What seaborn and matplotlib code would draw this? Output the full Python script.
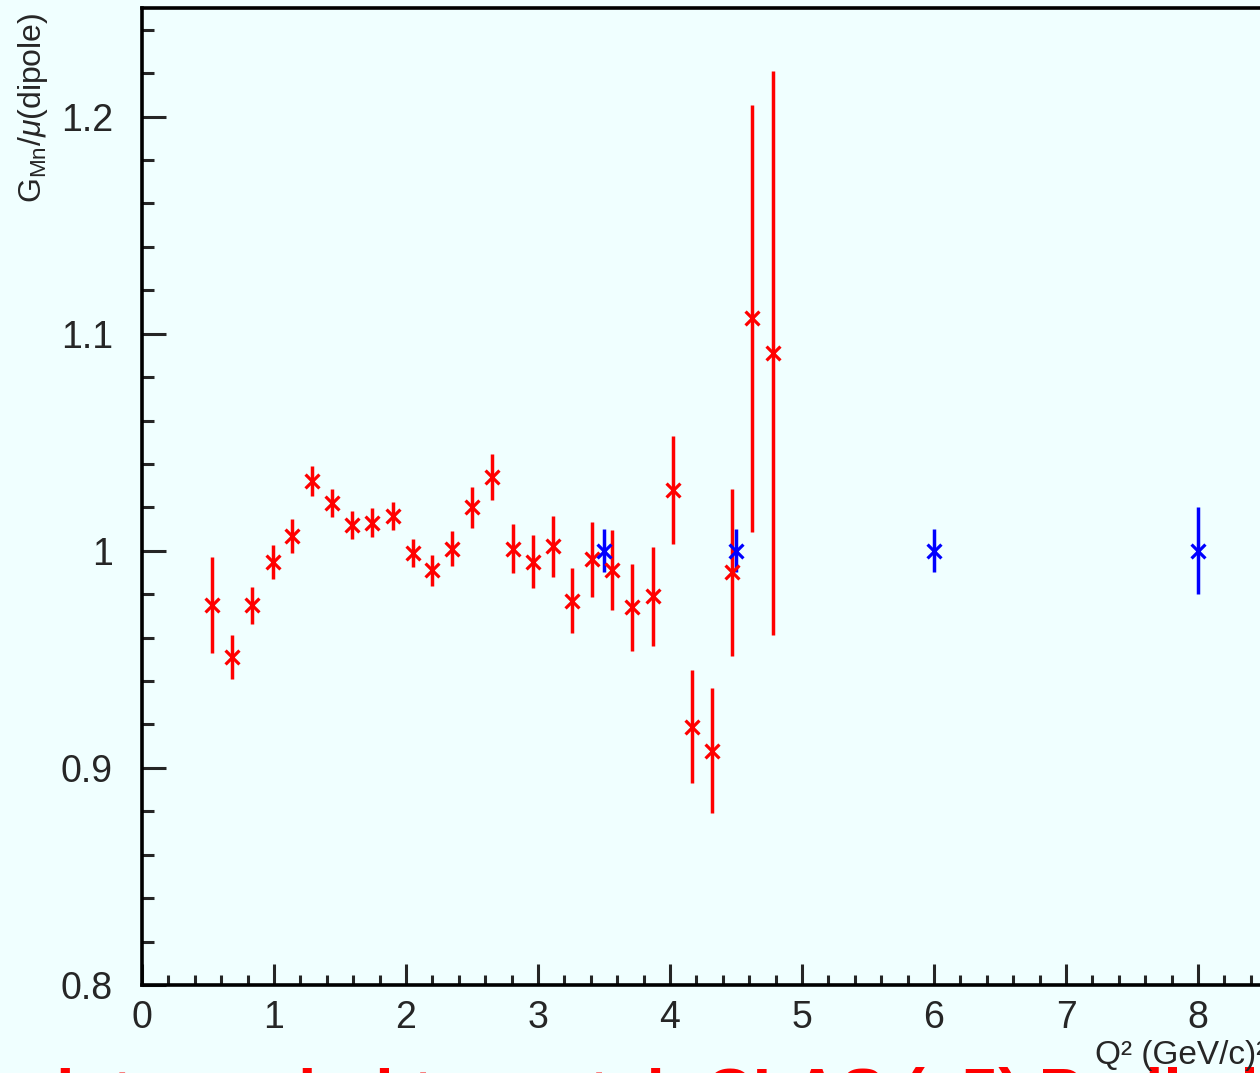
import seaborn as sns
import pandas as pd
import matplotlib
matplotlib.use("Agg")
import matplotlib.pyplot as plt
from matplotlib.ticker import MultipleLocator, FuncFormatter

# red points: Q2, G_Mn/mu G_D, error
q2_red = [0.53, 0.68, 0.83, 0.99, 1.14, 1.29, 1.44, 1.59, 1.74, 1.90, 2.05, 2.20,
          2.35, 2.50, 2.65, 2.81, 2.96, 3.11, 3.26, 3.41, 3.56, 3.71, 3.87, 4.02,
          4.17, 4.32, 4.47, 4.62, 4.78]
gmn_red = [0.975, 0.951, 0.975, 0.995, 1.007, 1.032, 1.022, 1.012, 1.013, 1.016,
           0.999, 0.991, 1.001, 1.020, 1.034, 1.001, 0.995, 1.002, 0.977, 0.996,
           0.991, 0.974, 0.979, 1.028, 0.919, 0.908, 0.990, 1.107, 1.091]
err_red = [0.022, 0.010, 0.0085, 0.0078, 0.0078, 0.007, 0.0066, 0.0065, 0.0065,
           0.0064, 0.0064, 0.007, 0.0081, 0.0096, 0.0107, 0.0112, 0.0121, 0.0142,
           0.015, 0.0172, 0.0184, 0.020, 0.0229, 0.025, 0.026, 0.029, 0.0385,
           0.0985, 0.130]

# blue points (projected)
q2_blue = [3.5, 4.5, 6.0, 8.0]
gmn_blue = [1.0, 1.0, 1.0, 1.0]
err_blue = [0.01, 0.01, 0.01, 0.02]

bg = "#f0ffff"
sns.set_style("ticks")
plt.rcParams["font.family"] = ["Liberation Sans", "DejaVu Sans"]
plt.rcParams["mathtext.fontset"] = "custom"
plt.rcParams["mathtext.rm"] = "Liberation Sans"
plt.rcParams["mathtext.it"] = "Liberation Sans:italic"

fig = plt.figure(figsize=(12.6, 10.73), dpi=100, facecolor=bg)
ax = fig.add_axes([142 / 1260, 88 / 1073, 1320 / 1260, 977 / 1073], facecolor=bg)

red = pd.DataFrame({"q2": q2_red, "gmn": gmn_red, "err": err_red})
blue = pd.DataFrame({"q2": q2_blue, "gmn": gmn_blue, "err": err_blue})

for df, col in [(red, "#ff0000"), (blue, "#0000ff")]:
    ax.errorbar(df["q2"], df["gmn"], yerr=df["err"], fmt="none",
                ecolor=col, elinewidth=2.5, capsize=0, zorder=2)
    sns.scatterplot(data=df, x="q2", y="gmn", marker="x", color=col,
                    s=100, linewidth=2.3, ax=ax, zorder=3, legend=False)

ax.set_xlim(0, 10)
ax.set_ylim(0.8, 1.25)
ax.set_xlabel("")
ax.set_ylabel("")

ax.xaxis.set_major_locator(MultipleLocator(1))
ax.xaxis.set_minor_locator(MultipleLocator(0.2))
ax.yaxis.set_major_locator(MultipleLocator(0.1))
ax.yaxis.set_minor_locator(MultipleLocator(0.02))
ax.yaxis.set_major_formatter(FuncFormatter(lambda v, p: "%g" % round(v, 3)))

for s in ["left", "bottom", "top"]:
    ax.spines[s].set_visible(True)
    ax.spines[s].set_linewidth(2.6)
    ax.spines[s].set_color("black")
ax.spines["right"].set_visible(False)

ax.tick_params(axis="x", which="major", direction="in", length=15, width=2.2,
               labelsize=27, pad=11, top=False)
ax.tick_params(axis="x", which="minor", direction="in", length=7.5, width=2.2, top=False)
ax.tick_params(axis="y", which="major", direction="in", length=17, width=2.2,
               labelsize=27, pad=21, right=False)
ax.tick_params(axis="y", which="minor", direction="in", length=8.5, width=2.2, right=False)

fig.text(33 / 1260, 1 - 13 / 1073, r"G$_{\mathrm{Mn}}$/$\mu$(dipole)",
         rotation=90, ha="center", va="top", fontsize=23)

# big red banner, mostly cut off at the bottom edge
fig.text(705 / 1260, 1 - 1067 / 1073, "CLAS (e5) Preliminary", ha="left",
         va="top", fontsize=47.5, fontweight="bold", color="#ff0000")
fig.text(687 / 1260, 1 - 1067 / 1073, "data scaled to match", ha="right",
         va="top", fontsize=47.5, fontweight="bold", color="#ff0000")

fig.text(1095 / 1260, 1 - 1064 / 1073, "Q² (GeV/c)²", ha="left",
         va="baseline", fontsize=24)

fig.savefig("out.png", dpi=100, facecolor=bg)
